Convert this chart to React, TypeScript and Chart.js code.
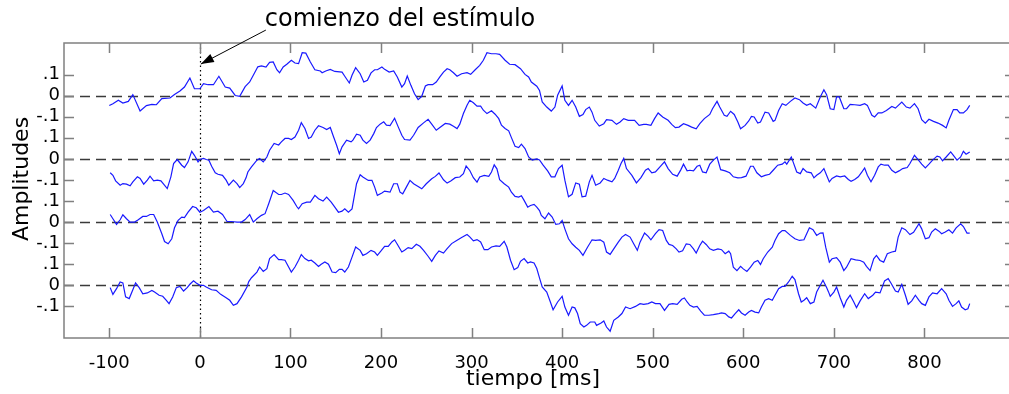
import React, { useEffect, useRef } from "react";
import { Chart, registerables } from "chart.js";

Chart.register(...registerables);

// ---- data (time in ms, amplitude relative to each trace's own zero line) ----
const trace1: [number, number][] = [[-100,-0.047],[-96,-0.038],[-90,-0.022],[-85,-0.035],[-79,-0.027],[-74,0.005],[-66,-0.073],[-59,-0.047],[-53,-0.041],[-48,-0.043],[-42,-0.014],[-33,-0.011],[-28,0.006],[-22,0.022],[-17,0.041],[-11,0.084],[-6,0.033],[0,0.033],[4,0.057],[9,0.052],[15,0.052],[21,0.092],[28,0.041],[33,0.036],[39,0.001],[44,-0.003],[50,0.043],[55,0.065],[59,0.097],[64,0.137],[68,0.141],[73,0.136],[77,0.158],[81,0.160],[85,0.123],[88,0.109],[92,0.136],[96,0.149],[101,0.168],[105,0.155],[109,0.152],[113,0.204],[117,0.202],[122,0.160],[127,0.123],[133,0.117],[135,0.109],[139,0.117],[144,0.125],[149,0.115],[157,0.112],[160,0.092],[165,0.060],[168,0.097],[172,0.133],[177,0.104],[181,0.065],[185,0.073],[189,0.108],[193,0.123],[196,0.123],[201,0.136],[204,0.125],[209,0.112],[214,0.117],[218,0.089],[223,0.041],[226,0.057],[229,0.093],[233,0.049],[237,0.009],[241,-0.019],[245,-0.003],[249,0.046],[252,0.052],[257,0.052],[261,0.065],[265,0.089],[269,0.112],[273,0.128],[276,0.123],[280,0.109],[284,0.092],[289,0.104],[295,0.109],[299,0.101],[304,0.123],[309,0.144],[313,0.168],[317,0.204],[322,0.199],[327,0.199],[331,0.196],[337,0.168],[342,0.149],[348,0.147],[354,0.128],[359,0.101],[363,0.089],[366,0.065],[372,0.045],[375,0.025],[378,-0.030],[383,-0.054],[388,-0.073],[392,-0.054],[395,0.002],[400,0.046],[403,-0.022],[407,-0.046],[411,-0.022],[415,-0.054],[419,-0.098],[423,-0.089],[426,-0.066],[430,-0.054],[433,-0.078],[436,-0.117],[441,-0.144],[446,-0.133],[449,-0.114],[455,-0.117],[460,-0.136],[464,-0.125],[468,-0.109],[473,-0.117],[480,-0.117],[485,-0.141],[490,-0.136],[493,-0.136],[498,-0.141],[502,-0.109],[506,-0.082],[511,-0.101],[517,-0.117],[521,-0.136],[525,-0.152],[529,-0.149],[534,-0.133],[539,-0.141],[543,-0.149],[548,-0.157],[552,-0.133],[557,-0.109],[563,-0.089],[566,-0.062],[571,-0.027],[574,-0.054],[579,-0.093],[582,-0.098],[586,-0.074],[590,-0.089],[594,-0.125],[597,-0.157],[602,-0.141],[606,-0.120],[609,-0.098],[612,-0.101],[616,-0.130],[619,-0.125],[624,-0.078],[628,-0.082],[633,-0.122],[635,-0.117],[639,-0.070],[643,-0.038],[647,-0.046],[652,-0.027],[657,-0.011],[662,-0.019],[666,-0.035],[670,-0.046],[674,-0.038],[680,-0.059],[685,-0.006],[689,0.028],[692,0.005],[696,-0.062],[700,-0.066],[703,-0.006],[706,-0.006],[711,-0.062],[714,-0.062],[718,-0.041],[723,-0.043],[729,-0.046],[734,-0.038],[737,-0.046],[742,-0.093],[745,-0.101],[749,-0.082],[753,-0.082],[758,-0.070],[764,-0.051],[768,-0.059],[775,-0.030],[780,-0.054],[784,-0.059],[789,-0.038],[793,-0.062],[797,-0.114],[801,-0.130],[805,-0.112],[810,-0.122],[815,-0.130],[820,-0.141],[824,-0.153],[827,-0.117],[832,-0.066],[836,-0.066],[839,-0.082],[843,-0.082],[847,-0.066],[850,-0.046]];

const trace2: [number, number][] = [[-99,-0.066],[-96,-0.078],[-93,-0.104],[-88,-0.125],[-85,-0.117],[-81,-0.120],[-77,-0.128],[-74,-0.109],[-69,-0.085],[-66,-0.093],[-62,-0.120],[-58,-0.101],[-55,-0.082],[-51,-0.104],[-47,-0.101],[-43,-0.104],[-40,-0.120],[-36,-0.141],[-32,-0.085],[-29,-0.022],[-25,-0.003],[-20,-0.030],[-17,-0.041],[-13,-0.014],[-9,0.036],[-6,0.017],[-2,-0.014],[0,-0.003],[4,0.002],[7,-0.003],[10,-0.006],[13,-0.035],[17,-0.066],[20,-0.073],[25,-0.078],[29,-0.101],[32,-0.125],[37,-0.101],[41,-0.117],[44,-0.136],[48,-0.117],[51,-0.090],[53,-0.062],[57,-0.038],[63,-0.006],[66,0.002],[70,-0.014],[74,0.009],[77,0.041],[82,0.073],[87,0.066],[90,0.081],[94,0.097],[98,0.097],[101,0.092],[105,0.104],[109,0.136],[112,0.172],[116,0.144],[120,0.097],[123,0.104],[127,0.136],[131,0.157],[136,0.149],[140,0.139],[144,0.149],[147,0.112],[151,0.065],[154,0.025],[157,0.057],[162,0.089],[167,0.081],[169,0.089],[173,0.117],[177,0.112],[180,0.089],[184,0.073],[188,0.089],[192,0.120],[195,0.149],[199,0.165],[203,0.176],[206,0.160],[210,0.158],[215,0.193],[219,0.152],[223,0.112],[226,0.092],[232,0.089],[236,0.112],[241,0.149],[247,0.171],[252,0.188],[256,0.165],[261,0.136],[265,0.149],[271,0.168],[276,0.165],[280,0.155],[284,0.144],[287,0.165],[291,0.215],[295,0.255],[298,0.278],[302,0.266],[306,0.250],[310,0.250],[313,0.231],[317,0.215],[322,0.228],[326,0.212],[330,0.191],[333,0.160],[337,0.144],[341,0.133],[344,0.101],[348,0.060],[352,0.054],[355,0.070],[359,0.049],[363,0.009],[367,-0.006],[372,0.000],[375,-0.005],[379,-0.030],[384,-0.057],[388,-0.085],[392,-0.085],[396,-0.046],[400,-0.030],[403,-0.101],[407,-0.180],[411,-0.168],[415,-0.114],[419,-0.120],[422,-0.180],[426,-0.177],[430,-0.109],[433,-0.078],[437,-0.125],[442,-0.114],[446,-0.093],[450,-0.101],[455,-0.109],[458,-0.093],[462,-0.054],[465,-0.022],[468,0.002],[471,-0.046],[477,-0.078],[482,-0.114],[487,-0.089],[492,-0.054],[495,-0.046],[499,-0.066],[503,-0.062],[508,-0.038],[513,-0.014],[517,-0.046],[522,-0.073],[527,-0.082],[531,-0.052],[534,-0.025],[538,-0.057],[541,-0.054],[545,-0.057],[549,-0.035],[552,-0.030],[555,-0.062],[559,-0.066],[563,-0.025],[567,-0.006],[571,0.009],[575,-0.051],[580,-0.057],[585,-0.066],[589,-0.085],[594,-0.090],[598,-0.089],[603,-0.082],[608,-0.035],[611,-0.035],[615,-0.066],[620,-0.085],[624,-0.078],[629,-0.073],[633,-0.054],[638,-0.030],[643,-0.025],[646,-0.014],[648,-0.025],[653,0.009],[655,-0.014],[659,-0.062],[663,-0.070],[666,-0.046],[670,-0.062],[675,-0.066],[678,-0.090],[681,-0.078],[685,-0.066],[689,-0.046],[692,-0.078],[695,-0.109],[698,-0.093],[703,-0.081],[707,-0.085],[712,-0.081],[716,-0.098],[719,-0.106],[723,-0.098],[727,-0.085],[731,-0.062],[734,-0.043],[737,-0.078],[741,-0.109],[745,-0.078],[749,-0.038],[752,-0.025],[756,-0.030],[760,-0.030],[764,-0.054],[768,-0.066],[772,-0.057],[776,-0.046],[781,-0.041],[784,-0.022],[789,0.017],[793,-0.003],[797,-0.025],[801,-0.043],[805,-0.025],[809,-0.006],[814,0.013],[817,0.009],[820,-0.009],[824,0.009],[829,0.033],[832,0.017],[836,-0.006],[840,0.009],[843,0.036],[846,0.022],[850,0.033]];

const trace3: [number, number][] = [[-99,0.036],[-96,0.016],[-92,-0.011],[-88,0.011],[-85,0.035],[-81,0.016],[-77,0.000],[-72,0.000],[-68,0.011],[-63,0.027],[-59,0.027],[-55,0.036],[-51,0.036],[-47,0.000],[-42,-0.055],[-39,-0.092],[-35,-0.103],[-31,-0.079],[-28,-0.027],[-24,0.008],[-20,0.024],[-17,0.021],[-13,0.047],[-8,0.074],[-4,0.068],[0,0.047],[4,0.055],[10,0.074],[15,0.047],[20,0.052],[25,0.036],[30,0.003],[35,0.003],[41,0.000],[46,0.000],[50,0.012],[55,0.036],[59,0.000],[63,0.016],[68,0.032],[72,0.040],[76,0.087],[81,0.150],[87,0.131],[90,0.131],[94,0.138],[98,0.131],[103,0.103],[107,0.074],[109,0.063],[113,0.087],[118,0.095],[122,0.095],[127,0.127],[131,0.111],[136,0.100],[140,0.119],[145,0.095],[149,0.071],[153,0.047],[157,0.052],[160,0.063],[164,0.047],[168,0.063],[173,0.182],[177,0.225],[180,0.214],[186,0.198],[190,0.198],[193,0.166],[196,0.127],[201,0.138],[204,0.147],[210,0.142],[214,0.182],[218,0.182],[221,0.142],[224,0.134],[228,0.166],[232,0.198],[236,0.182],[241,0.169],[245,0.158],[250,0.182],[256,0.206],[260,0.217],[264,0.233],[269,0.201],[273,0.185],[277,0.195],[282,0.211],[287,0.214],[291,0.230],[294,0.266],[298,0.245],[302,0.211],[306,0.190],[309,0.214],[314,0.222],[319,0.217],[322,0.238],[325,0.272],[328,0.253],[331,0.201],[336,0.182],[341,0.166],[344,0.142],[348,0.122],[352,0.119],[355,0.125],[358,0.103],[362,0.071],[365,0.079],[369,0.084],[372,0.071],[375,0.055],[377,0.032],[381,0.016],[385,0.043],[389,0.024],[393,-0.011],[397,-0.008],[400,0.008],[403,-0.032],[407,-0.079],[411,-0.103],[415,-0.119],[419,-0.134],[423,-0.158],[428,-0.119],[433,-0.084],[437,-0.087],[442,-0.084],[446,-0.095],[449,-0.142],[453,-0.153],[457,-0.127],[462,-0.095],[466,-0.071],[470,-0.059],[475,-0.071],[479,-0.103],[483,-0.134],[486,-0.095],[491,-0.052],[495,-0.068],[498,-0.084],[503,-0.055],[507,-0.036],[511,-0.040],[515,-0.087],[518,-0.106],[522,-0.111],[526,-0.127],[529,-0.142],[533,-0.136],[537,-0.103],[541,-0.106],[545,-0.127],[548,-0.147],[552,-0.111],[555,-0.090],[559,-0.106],[563,-0.127],[567,-0.134],[572,-0.127],[576,-0.131],[580,-0.150],[584,-0.138],[586,-0.150],[589,-0.214],[593,-0.230],[597,-0.210],[600,-0.222],[604,-0.234],[608,-0.214],[612,-0.190],[616,-0.182],[619,-0.201],[622,-0.174],[627,-0.142],[632,-0.119],[635,-0.087],[639,-0.055],[643,-0.040],[646,-0.040],[652,-0.063],[657,-0.079],[662,-0.087],[667,-0.084],[670,-0.055],[673,-0.027],[677,-0.036],[681,-0.063],[685,-0.052],[688,-0.051],[691,-0.119],[695,-0.190],[698,-0.174],[703,-0.169],[707,-0.190],[711,-0.230],[714,-0.214],[719,-0.174],[724,-0.179],[729,-0.182],[733,-0.190],[736,-0.210],[740,-0.230],[744,-0.174],[747,-0.158],[751,-0.182],[755,-0.190],[759,-0.150],[764,-0.142],[768,-0.138],[771,-0.071],[775,-0.027],[779,-0.036],[784,-0.059],[788,-0.048],[794,-0.008],[797,-0.032],[801,-0.079],[805,-0.074],[808,-0.047],[812,-0.032],[816,-0.043],[819,-0.055],[823,-0.047],[827,-0.036],[831,-0.052],[835,-0.027],[840,-0.008],[843,-0.021],[847,-0.052],[850,-0.052]];

const trace4: [number, number][] = [[-99,-0.011],[-96,-0.043],[-92,-0.016],[-88,0.016],[-85,0.011],[-82,-0.055],[-78,-0.063],[-74,-0.021],[-71,0.011],[-67,-0.011],[-63,-0.040],[-58,-0.036],[-53,-0.024],[-50,-0.032],[-45,-0.047],[-41,-0.052],[-37,-0.071],[-34,-0.087],[-30,-0.055],[-26,-0.011],[-22,-0.005],[-18,-0.027],[-14,-0.011],[-11,0.005],[-7,0.021],[-4,0.011],[0,0.000],[4,0.000],[7,-0.008],[13,-0.021],[18,-0.024],[23,-0.043],[29,-0.059],[33,-0.071],[37,-0.095],[41,-0.087],[46,-0.055],[52,-0.008],[54,0.018],[57,0.036],[63,0.063],[66,0.087],[70,0.066],[74,0.079],[77,0.127],[82,0.146],[87,0.122],[90,0.122],[94,0.119],[98,0.087],[101,0.063],[105,0.087],[109,0.119],[112,0.146],[116,0.127],[120,0.116],[123,0.119],[127,0.106],[131,0.090],[134,0.100],[138,0.111],[142,0.100],[146,0.063],[150,0.060],[154,0.076],[157,0.076],[160,0.063],[164,0.087],[168,0.134],[172,0.182],[177,0.166],[180,0.142],[184,0.150],[189,0.166],[193,0.158],[196,0.142],[200,0.163],[204,0.185],[208,0.185],[212,0.206],[215,0.216],[218,0.195],[223,0.158],[226,0.166],[230,0.179],[234,0.174],[239,0.195],[243,0.185],[247,0.166],[252,0.138],[256,0.114],[260,0.142],[264,0.163],[269,0.153],[273,0.174],[278,0.198],[284,0.214],[289,0.227],[295,0.241],[298,0.230],[302,0.211],[306,0.217],[310,0.206],[314,0.169],[318,0.169],[322,0.182],[327,0.187],[331,0.185],[336,0.209],[339,0.182],[343,0.119],[347,0.074],[351,0.084],[354,0.114],[358,0.127],[362,0.106],[365,0.111],[369,0.106],[372,0.080],[375,0.035],[378,-0.008],[383,-0.032],[387,-0.079],[390,-0.116],[395,-0.079],[400,-0.052],[403,-0.103],[407,-0.142],[411,-0.103],[414,-0.107],[417,-0.134],[420,-0.182],[424,-0.198],[427,-0.190],[431,-0.174],[436,-0.174],[438,-0.190],[443,-0.179],[446,-0.169],[449,-0.198],[453,-0.218],[457,-0.166],[462,-0.150],[466,-0.134],[470,-0.103],[475,-0.111],[481,-0.100],[486,-0.087],[490,-0.090],[495,-0.087],[499,-0.079],[503,-0.087],[508,-0.087],[513,-0.119],[518,-0.090],[522,-0.087],[527,-0.090],[532,-0.066],[535,-0.060],[538,-0.079],[541,-0.095],[545,-0.103],[549,-0.100],[553,-0.122],[557,-0.142],[562,-0.142],[567,-0.139],[573,-0.134],[576,-0.131],[580,-0.134],[584,-0.150],[587,-0.155],[591,-0.134],[595,-0.116],[598,-0.131],[602,-0.142],[606,-0.127],[609,-0.119],[613,-0.127],[617,-0.131],[620,-0.103],[624,-0.071],[628,-0.063],[632,-0.071],[635,-0.047],[639,-0.016],[643,-0.005],[646,-0.005],[650,0.016],[654,0.043],[657,0.027],[661,-0.040],[664,-0.079],[667,-0.071],[670,-0.059],[674,-0.087],[678,-0.079],[681,-0.032],[685,0.000],[688,0.024],[692,-0.010],[694,-0.030],[696,-0.052],[700,-0.032],[703,-0.008],[707,-0.059],[711,-0.103],[714,-0.071],[718,-0.047],[722,-0.079],[725,-0.106],[729,-0.074],[734,-0.040],[738,-0.063],[743,-0.047],[746,-0.032],[751,-0.036],[756,0.021],[760,0.032],[763,0.011],[768,-0.027],[771,-0.032],[775,0.005],[779,-0.047],[782,-0.090],[786,-0.074],[790,-0.047],[794,-0.071],[797,-0.087],[801,-0.095],[805,-0.055],[809,-0.036],[814,-0.040],[819,-0.016],[824,-0.040],[827,-0.071],[831,-0.100],[835,-0.087],[838,-0.074],[841,-0.103],[845,-0.116],[848,-0.111],[850,-0.087]];

const traces = [trace1, trace2, trace3, trace4];
const traceOffsets = [0.9, 0.6, 0.3, 0.0];

const xTickValues = [-100, 0, 100, 200, 300, 400, 500, 600, 700, 800];
const yTickValues = [-0.1, 0, 0.1, 0.2, 0.3, 0.4, 0.5, 0.6, 0.7, 0.8, 0.9, 1.0];
const yTickLabels = ["-.1", "0", ".1", "-.1", "0", ".1", "-.1", "0", ".1", "-.1", "0", ".1"];

const xTitle = "tiempo [ms]";
const yTitle = "Amplitudes";
const annotationText = "comienzo del estímulo";
const stimulusTime = 0;
const arrowTipValue = 1.05;

const FONT = "'DejaVu Sans', sans-serif";
const W = 1030;
const H = 394;

const decorPlugin = {
  id: "decor",
  beforeDatasetsDraw(chart: any) {
    const { ctx, chartArea: a, scales } = chart;
    const x = scales.x;
    const y = scales.y;
    ctx.save();
    ctx.strokeStyle = "#3a3a3a";
    ctx.lineWidth = 1.4;
    ctx.setLineDash([10, 6]);
    for (const off of traceOffsets) {
      const py = Math.round(y.getPixelForValue(off)) + 0.5;
      ctx.beginPath();
      ctx.moveTo(a.left, py);
      ctx.lineTo(a.right, py);
      ctx.stroke();
    }
    ctx.setLineDash([1.5, 3]);
    ctx.strokeStyle = "#000";
    ctx.lineWidth = 1.2;
    const px = Math.round(x.getPixelForValue(stimulusTime)) + 0.5;
    ctx.beginPath();
    ctx.moveTo(px, a.top);
    ctx.lineTo(px, a.bottom);
    ctx.stroke();
    ctx.restore();
  },
  afterDraw(chart: any) {
    const { ctx, chartArea: a, scales } = chart;
    const x = scales.x;
    const y = scales.y;
    ctx.save();
    // frame
    ctx.strokeStyle = "#808080";
    ctx.lineWidth = 1.5;
    ctx.setLineDash([]);
    ctx.strokeRect(a.left, a.top, a.right - a.left, a.bottom - a.top);
    // inward ticks
    const tl = 10;
    ctx.beginPath();
    for (const v of xTickValues) {
      const px = Math.round(x.getPixelForValue(v)) + 0.5;
      ctx.moveTo(px, a.bottom);
      ctx.lineTo(px, a.bottom - tl);
      ctx.moveTo(px, a.top);
      ctx.lineTo(px, a.top + tl);
    }
    for (const v of yTickValues) {
      const py = Math.round(y.getPixelForValue(v)) + 0.5;
      ctx.moveTo(a.left, py);
      ctx.lineTo(a.left + tl, py);
      ctx.moveTo(a.right, py);
      ctx.lineTo(a.right - tl, py);
    }
    ctx.stroke();

    // titles
    ctx.fillStyle = "#000";
    ctx.font = `22px ${FONT}`;
    ctx.textAlign = "center";
    ctx.textBaseline = "middle";
    ctx.fillText(xTitle, 533, 379);
    ctx.save();
    ctx.translate(22, 179);
    ctx.rotate(-Math.PI / 2);
    ctx.fillText(yTitle, 0, 0);
    ctx.restore();

    // annotation
    const tipX = x.getPixelForValue(stimulusTime) + 1;
    const tipY = y.getPixelForValue(arrowTipValue);
    const tailX = tipX + 65;
    const tailY = tipY - 34;
    ctx.font = `24px ${FONT}`;
    ctx.textAlign = "left";
    ctx.fillText(annotationText, tailX - 1, 20);
    ctx.strokeStyle = "#000";
    ctx.lineWidth = 1;
    ctx.beginPath();
    ctx.moveTo(tailX, tailY);
    ctx.lineTo(tipX, tipY);
    ctx.stroke();
    const ang = Math.atan2(tipY - tailY, tipX - tailX);
    const hl = 13;
    const hw = 4.5;
    const bx = tipX - hl * Math.cos(ang);
    const by = tipY - hl * Math.sin(ang);
    ctx.fillStyle = "#000";
    ctx.beginPath();
    ctx.moveTo(tipX, tipY);
    ctx.lineTo(bx + hw * Math.sin(ang), by - hw * Math.cos(ang));
    ctx.lineTo(bx - hw * Math.sin(ang), by + hw * Math.cos(ang));
    ctx.closePath();
    ctx.fill();
    ctx.restore();
  },
};

export default function App() {
  const canvasRef = useRef<HTMLCanvasElement | null>(null);

  useEffect(() => {
    const canvas = canvasRef.current;
    if (!canvas) return;
    const chart = new Chart(canvas, {
      type: "line",
      data: {
        datasets: traces.map((tr, i) => ({
          label: `trace ${i + 1}`,
          data: tr.map(([t, v]) => ({ x: t, y: v + traceOffsets[i] })),
          borderColor: "rgb(25,25,255)",
          borderWidth: 1.2,
          pointRadius: 0,
          tension: 0,
          fill: false,
        })),
      },
      options: {
        animation: false,
        responsive: false,
        devicePixelRatio: 1,
        layout: { padding: { top: 43, right: 15, left: 0, bottom: 0 } },
        plugins: { legend: { display: false }, tooltip: { enabled: false } },
        scales: {
          x: {
            type: "linear",
            min: -150,
            max: 900,
            grid: { display: false, drawTicks: false },
            border: { display: false },
            afterBuildTicks: (s: any) => {
              s.ticks = xTickValues.map((v) => ({ value: v }));
            },
            afterFit: (s: any) => {
              s.height = 56;
            },
            ticks: {
              autoSkip: false,
              maxRotation: 0,
              padding: 15,
              color: "#000",
              font: { family: FONT, size: 18 },
            },
          },
          y: {
            type: "linear",
            min: -0.25,
            max: 1.15,
            grid: { display: false, drawTicks: false },
            border: { display: false },
            afterBuildTicks: (s: any) => {
              s.ticks = yTickValues.map((v) => ({ value: v }));
            },
            afterFit: (s: any) => {
              s.width = 64;
            },
            ticks: {
              autoSkip: false,
              padding: 4,
              color: "#000",
              font: { family: FONT, size: 18 },
              callback: (value: any) => {
                let best = 0;
                for (let k = 0; k < yTickValues.length; k++) {
                  if (Math.abs(yTickValues[k] - value) < Math.abs(yTickValues[best] - value)) best = k;
                }
                return yTickLabels[best];
              },
            },
          },
        },
      },
      plugins: [decorPlugin],
    } as any);
    return () => chart.destroy();
  }, []);

  return (
    <div style={{ position: "absolute", left: 0, top: 0, width: 1009, height: 394, overflow: "hidden", background: "#fff" }}>
      <canvas ref={canvasRef} width={W} height={H} style={{ width: W, height: H, display: "block" }} />
    </div>
  );
}
